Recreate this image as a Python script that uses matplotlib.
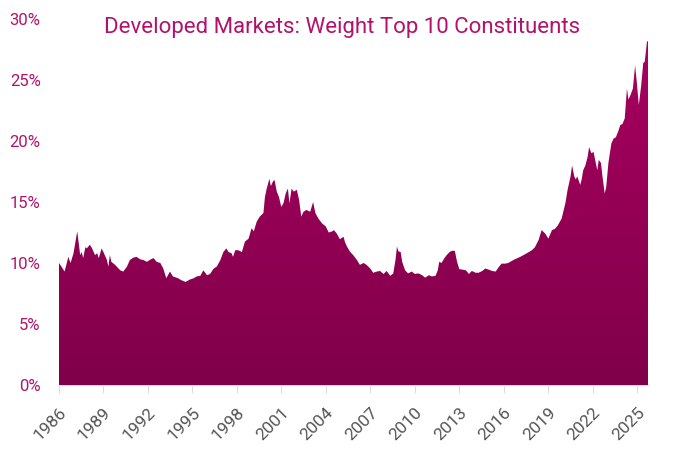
import numpy as np
from matplotlib import pyplot as plt
from matplotlib.colors import LinearSegmentedColormap

# weight of top 10 constituents (%)
years = [1986.0, 1986.4, 1986.65, 1986.8, 1987.0, 1987.25, 1987.45, 1987.55, 1987.65, 1987.8,
         1987.9, 1988.1, 1988.25, 1988.45, 1988.6, 1988.7, 1988.9, 1989.05, 1989.25, 1989.35,
         1989.45, 1989.55, 1989.8, 1990.15, 1990.35, 1990.6, 1990.8, 1991.05, 1991.25, 1991.5,
         1991.7, 1991.95, 1992.2, 1992.4, 1992.6, 1992.85, 1993.05, 1993.25, 1993.5, 1993.7,
         1994.05, 1994.25, 1994.55, 1994.85, 1995.1, 1995.3, 1995.55, 1995.75, 1996.0, 1996.2,
         1996.45, 1996.65, 1996.9, 1997.1, 1997.3, 1997.45, 1997.65, 1997.75, 1997.9, 1998.1,
         1998.35, 1998.55, 1998.8, 1999.0, 1999.15, 1999.35, 1999.55, 1999.8, 1999.9, 2000.0,
         2000.2, 2000.3, 2000.45, 2000.55, 2000.7, 2000.85, 2001.0, 2001.15, 2001.3, 2001.45,
         2001.55, 2001.7, 2001.85, 2002.05, 2002.2, 2002.35, 2002.5, 2002.7, 2002.95, 2003.05,
         2003.15, 2003.3, 2003.5, 2003.75, 2004.0, 2004.2, 2004.45, 2004.55, 2004.75, 2004.95,
         2005.2, 2005.3, 2005.45, 2005.65, 2005.85, 2006.1, 2006.3, 2006.55, 2006.75, 2007.0,
         2007.2, 2007.45, 2007.65, 2007.9, 2008.1, 2008.35, 2008.55, 2008.7, 2008.8, 2008.9,
         2009.05, 2009.15, 2009.35, 2009.55, 2009.8, 2010.0, 2010.25, 2010.5, 2010.7, 2010.95,
         2011.15, 2011.4, 2011.55, 2011.65, 2011.8, 2012.0, 2012.15, 2012.35, 2012.5, 2012.7,
         2012.85, 2013.0, 2013.25, 2013.45, 2013.65, 2013.85, 2014.1, 2014.3, 2014.55, 2014.75,
         2015.0, 2015.2, 2015.45, 2015.65, 2015.85, 2016.1, 2016.3, 2016.65, 2017.1, 2017.55,
         2017.9, 2018.1, 2018.35, 2018.55, 2018.8, 2019.0, 2019.25, 2019.45, 2019.65, 2019.9,
         2020.15, 2020.3, 2020.5, 2020.6, 2020.75, 2020.85, 2020.95, 2021.15, 2021.25, 2021.35,
         2021.5, 2021.65, 2021.75, 2021.9, 2022.05, 2022.2, 2022.3, 2022.4, 2022.55, 2022.65,
         2022.8, 2022.9, 2023.05, 2023.25, 2023.4, 2023.55, 2023.7, 2023.85, 2024.0, 2024.15,
         2024.3, 2024.4, 2024.55, 2024.7, 2024.85, 2024.95, 2025.1, 2025.25, 2025.4, 2025.5,
         2025.65, 2025.74]
weights = [10.05, 9.3, 10.5, 10.0, 10.8, 12.6, 10.65, 10.9, 10.4, 11.3,
           11.2, 11.5, 11.2, 10.65, 10.8, 10.4, 11.2, 10.8, 10.25, 9.7,
           10.65, 10.1, 9.85, 9.4, 9.3, 9.7, 10.25, 10.45, 10.5, 10.3,
           10.25, 10.1, 10.3, 10.4, 10.1, 10.0, 9.55, 8.75, 9.3, 8.9,
           8.75, 8.6, 8.45, 8.65, 8.75, 8.9, 8.95, 9.4, 9.0, 9.1,
           9.55, 9.7, 10.25, 10.9, 11.2, 10.9, 10.8, 10.5, 11.05, 11.05,
           10.9, 11.75, 12.0, 12.85, 12.6, 13.4, 13.8, 14.1, 15.4, 16.0,
           16.9, 16.3, 16.7, 16.8, 15.85, 15.4, 14.6, 14.9, 15.7, 16.1,
           14.9, 16.1, 15.85, 16.0, 15.2, 13.8, 14.2, 14.35, 14.2, 14.6,
           15.0, 14.1, 13.65, 13.25, 13.0, 12.5, 12.6, 12.7, 12.4, 11.95,
           12.15, 11.7, 11.3, 10.9, 10.65, 10.25, 9.85, 10.0, 9.85, 9.55,
           9.2, 9.3, 9.35, 9.1, 9.35, 8.95, 9.15, 10.25, 11.35, 10.95,
           10.9, 10.1, 9.4, 9.15, 9.3, 9.1, 9.15, 9.0, 8.8, 9.0,
           8.9, 8.95, 9.4, 10.1, 10.0, 10.4, 10.65, 10.9, 11.0, 11.0,
           10.1, 9.5, 9.45, 9.4, 9.1, 9.35, 9.2, 9.2, 9.35, 9.55,
           9.45, 9.35, 9.3, 9.65, 9.95, 9.95, 10.0, 10.25, 10.5, 10.8,
           11.05, 11.3, 11.9, 12.7, 12.4, 12.0, 12.7, 12.8, 13.1, 13.65,
           14.9, 16.0, 17.1, 18.0, 17.1, 16.85, 17.1, 16.4, 16.85, 17.6,
           18.0, 18.7, 19.5, 19.0, 19.1, 18.2, 17.6, 18.45, 18.2, 17.1,
           15.7, 16.2, 18.2, 19.8, 20.2, 20.3, 20.75, 21.3, 21.4, 21.85,
           24.3, 23.4, 23.8, 24.3, 26.2, 25.0, 22.95, 24.45, 26.4, 26.5,
           28.15, 28.2]
tick_years = list(range(1986, 2026, 3))
y_ticks = [0, 5, 10, 15, 20, 25, 30]

magenta = '#b3126c'
plt.rcParams['font.family'] = ['Roboto', 'DejaVu Sans']

fig = plt.figure(figsize=(6.8, 4.51), dpi=100)
ax = fig.add_axes([0.0863, 0.1463, 0.8671, 0.8116])

x = np.array(years)
y = np.array(weights)
ax.set_xlim(x[0], x[-1])
ax.set_ylim(0, 30)

# area with vertical gradient, clipped to the filled shape
poly = ax.fill_between(x, 0, y, facecolor='none', edgecolor='none')
cmap = LinearSegmentedColormap.from_list('g', ['#80004a', '#aa0060'])
grad = np.linspace(0, 1, 256).reshape(-1, 1)
im = ax.imshow(grad, cmap=cmap, origin='lower', aspect='auto',
               extent=[x[0], x[-1], 0, 30], zorder=2)
im.set_clip_path(poly.get_paths()[0], transform=ax.transData)

for s in ['top', 'right', 'left']:
    ax.spines[s].set_visible(False)
ax.spines['bottom'].set_color('#dddddd')
ax.spines['bottom'].set_zorder(1)

ax.set_yticks(y_ticks)
ax.set_yticklabels([str(v) + '%' for v in y_ticks])
ax.tick_params(axis='y', length=0, pad=13, labelsize=12, labelcolor=magenta)

ax.set_xticks(tick_years)
ax.set_xticklabels([str(t) for t in tick_years], rotation=45, ha='right',
                   rotation_mode='anchor')
ax.tick_params(axis='x', length=6, color='#dddddd', pad=8, labelsize=12.5,
               labelcolor='#555555')

fig.text(0.503, 0.940, 'Developed Markets: Weight Top 10 Constituents',
         ha='center', va='center', fontsize=16, color=magenta)

plt.savefig('out.png', dpi=100)
